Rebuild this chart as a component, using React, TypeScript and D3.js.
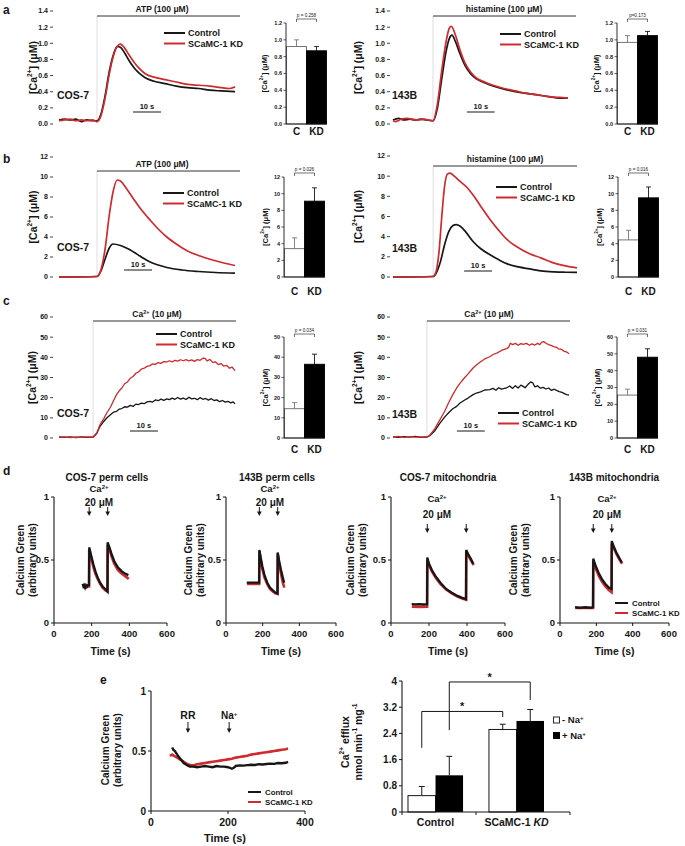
import React from "react";
import * as d3 from "d3";

type Pt = [number, number];

const FONT = "'Liberation Sans', Arial, Helvetica, sans-serif";
const RED = "#cf2a2e";
const INK = "#161616";

// ---------- panel a: [Ca2+] traces (time s, µM) ----------
const aCosCtrl: Pt[] = [[0,0.05],[2,0.06],[4,0.05],[6,0.06],[8,0.03],[10,0.05],[12,0.04],[13.6,0.04],[15,0.12],[16.5,0.35],[18,0.65],[19.5,0.86],[20.8,0.96],[22,0.95],[23.5,0.88],[25,0.79],[27,0.69],[29,0.62],[31,0.57],[34,0.53],[38,0.5],[42,0.47],[46,0.45],[50,0.44],[54,0.42],[58,0.41],[63,0.4]];
const aCosKd: Pt[] = [[0,0.04],[2,0.05],[4,0.06],[6,0.04],[8,0.05],[10,0.04],[12,0.05],[13.6,0.03],[15,0.1],[16.5,0.32],[18,0.62],[19.5,0.85],[21,0.97],[22,0.99],[23.5,0.94],[25,0.86],[27,0.76],[29,0.68],[31,0.62],[34,0.58],[38,0.55],[42,0.52],[46,0.49],[50,0.48],[54,0.47],[58,0.45],[61,0.44],[63,0.46]];
const a143Ctrl: Pt[] = [[0,0.05],[2,0.07],[4,0.05],[6,0.06],[8,0.05],[10,0.06],[12,0.05],[14.4,0.04],[16,0.2],[17.5,0.55],[19,0.88],[20.3,1.06],[21.2,1.1],[22.5,1.02],[24,0.88],[26,0.72],[28,0.62],[30,0.56],[33,0.51],[36,0.47],[40,0.43],[44,0.4],[48,0.38],[52,0.36],[56,0.34],[60,0.32],[63,0.32]];
const a143Kd: Pt[] = [[0,0.04],[1,0.03],[3,0.06],[5,0.07],[7,0.06],[9,0.05],[11,0.06],[14.4,0.04],[16,0.25],[17.5,0.65],[19,1.0],[20.3,1.19],[21,1.21],[22.5,1.1],[24,0.93],[26,0.75],[28,0.64],[30,0.57],[33,0.52],[36,0.48],[40,0.44],[44,0.41],[48,0.38],[52,0.36],[56,0.34],[60,0.33],[63,0.32]];

// ---------- panel b ----------
const bCosCtrl: Pt[] = [[0,0],[13.6,0.05],[15,0.6],[16.5,1.8],[18,2.9],[19.3,3.3],[22,3.15],[24.5,2.85],[26.7,2.5],[29.5,2.0],[32.6,1.5],[35.5,1.2],[38.6,0.95],[44,0.7],[50,0.55],[56,0.45],[63,0.38]];
const bCosKd: Pt[] = [[0,0],[13.6,0.05],[15,0.7],[16.5,2.8],[18,6.2],[19.5,8.7],[20.8,9.7],[22,9.6],[24,8.9],[26.7,7.8],[29,6.9],[32.6,5.7],[35.5,4.8],[38.6,4.0],[42,3.3],[46,2.6],[50.5,2.1],[55,1.7],[59,1.4],[63,1.15]];
const b143Ctrl: Pt[] = [[0,0],[14.4,0.05],[15.5,0.4],[17,1.5],[18.5,3.2],[20,4.5],[21.5,5.1],[22.7,5.2],[24,5.05],[26,4.5],[28.8,3.5],[31.5,2.8],[34.8,2.2],[38,1.7],[41,1.3],[45,1.0],[49,0.8],[53,0.6],[58,0.5],[62,0.47],[66,0.45]];
const b143Kd: Pt[] = [[0,0],[14.4,0.05],[15.5,0.6],[16.5,2.5],[17.5,6],[18.5,9],[19.5,10.2],[20.5,10.3],[22,10.0],[24,9.5],[26.5,8.9],[28.8,8.1],[31.5,7],[34.8,5.7],[38,4.6],[41,3.7],[45,2.9],[49,2.3],[53,1.9],[57,1.45],[61,1.15],[66,0.9]];

// ---------- panel c ----------
const cCosCtrl: Pt[] = [[0,0.5],[2,0.3],[4,0.6],[6,0.2],[8,0.5],[10,0.3],[12.2,0.4],[13.5,2.2],[14.7,5.8],[16,8.2],[17.1,9.9],[18.5,11.6],[19.5,12.8],[20.6,13.2],[21.5,14.3],[22.5,14.6],[23.5,15.5],[24.5,15.3],[25.5,16.2],[26.6,15.7],[27.5,16.8],[28.5,16.6],[29.5,17.3],[30.5,17.0],[31.5,17.9],[32.6,18.2],[33.5,17.8],[34.5,18.9],[35.5,18.5],[36.5,19.3],[37.5,18.7],[38.6,19.4],[39.5,19.0],[40.5,19.8],[41.5,19.2],[42.5,20.1],[43.5,19.3],[44.5,19.8],[45.5,19.1],[46.5,20.2],[47.5,19.4],[48.5,19.7],[49.5,19.0],[50.5,20.0],[51.5,19.2],[52.5,19.6],[53.5,18.8],[54.5,19.5],[55.5,18.6],[56.5,18.9],[57.5,18.0],[58.5,18.6],[59.5,17.8],[60.5,18.2],[61.5,17.4],[62.3,17.9],[63,17.0]];
const cCosKd: Pt[] = [[0,0.3],[2,0.6],[4,0.2],[6,0.5],[8,0.3],[10,0.6],[12.2,0.5],[13.5,2.5],[14.7,6.6],[16,9.5],[17.1,12.4],[18.5,15.5],[19.5,18.5],[20.6,21.5],[21.5,23.3],[22.5,24.8],[23.5,26.9],[24.5,27.8],[25.5,29.6],[26.6,30.6],[27.5,32.1],[28.5,32.8],[29.5,34.2],[30.5,34.6],[31.5,35.5],[32.6,35.9],[33.5,36.8],[34.5,36.5],[35.5,37.4],[36.5,37.0],[37.5,37.9],[38.6,37.7],[39.5,38.3],[40.5,37.8],[41.5,38.5],[42.5,38.1],[43.5,38.8],[44.5,38.3],[45.5,38.9],[46.5,38.2],[47.5,38.7],[48.5,38.0],[49.5,38.9],[50.5,38.5],[51.5,39.6],[52.3,39.5],[53,38.2],[54,39.0],[55,37.5],[56,37.8],[57,36.4],[58,36.9],[59,35.6],[60,36.0],[61,34.6],[62,35.1],[63,33.4]];
const c143Ctrl: Pt[] = [[0,0.6],[2,0.3],[4,0.7],[6,0.4],[8,0.8],[10,0.3],[12.2,0.5],[13.3,1.2],[15,3.5],[16.9,7.4],[18.5,10.2],[20,12.5],[21.5,14.5],[22.9,15.7],[24,17.2],[25.5,18.6],[27,19.8],[28.8,21.5],[30,22.3],[31.5,22.9],[33,23.8],[34.8,24.0],[36,24.6],[37,23.7],[38,24.9],[39,24.2],[40.8,24.8],[42,25.8],[43,24.6],[44,25.9],[45,24.8],[46,26.2],[46.8,25.6],[47.5,24.9],[48.5,26.5],[49.5,27.8],[50.3,27.3],[51,25.4],[52,25.9],[53,24.7],[54,25.1],[55,24.3],[56,24.8],[57,23.6],[58,24.2],[58.8,23.6],[59.8,23.0],[60.8,22.6],[61.8,21.9],[62.5,21.5],[63.3,21.2]];
const c143Kd: Pt[] = [[0,0.5],[2,0.8],[4,0.3],[6,0.7],[8,0.4],[10,0.6],[12.2,0.4],[13.3,1.5],[15,4.5],[16.9,9.1],[18.5,13],[20,17.5],[21.5,21.5],[22.9,24.8],[24,27],[25.5,29.5],[27,31.8],[28.8,34.7],[30,36.2],[31.5,37.8],[33,39.2],[34.8,40.3],[36,41.4],[37.5,42.2],[39,43.4],[40.8,44.3],[41.5,44.8],[42.2,47.0],[43,46.3],[44,46.9],[45,46.0],[46,46.8],[46.8,46.4],[48,46.9],[49,46.0],[50,46.7],[51,46.1],[52,46.9],[52.8,46.3],[53.5,47.5],[54.2,47.8],[55,47.0],[56,46.3],[57,45.8],[58,45.2],[58.8,45.0],[59.5,44.2],[60.5,44.0],[61.5,43.1],[62.5,42.6],[63.3,41.8]];

// ---------- bar summaries (C, KD) ----------
const barCats = ["C", "KD"];
const barA1 = [0.92, 0.87], errA1 = [0.08, 0.05];
const barA2 = [0.97, 1.05], errA2 = [0.08, 0.05];
const barB1 = [3.4, 9.1], errB1 = [1.3, 1.6];
const barB2 = [4.45, 9.5], errB2 = [1.15, 1.3];
const barC1 = [14.5, 36.5], errC1 = [3, 5];
const barC2 = [25.5, 48], errC2 = [3.5, 5];
const pVals = ["p = 0.258", "p=0.173", "p = 0.026", "p = 0.016", "p = 0.034", "p = 0.031"];

// ---------- panel d: Calcium Green (time s, a.u.) ----------
const dCosPermCtrl: Pt[] = [[152,0.31],[156,0.29],[160,0.3],[165,0.28],[170,0.3],[175,0.29],[180,0.3],[186,0.3],[187,0.6],[192,0.57],[200,0.52],[210,0.46],[220,0.41],[232,0.36],[245,0.32],[258,0.29],[272,0.27],[284,0.25],[285,0.64],[292,0.61],[305,0.55],[320,0.49],[340,0.44],[360,0.41],[380,0.39],[395,0.38]];
const dCosPermKd: Pt[] = [[154,0.29],[160,0.29],[170,0.28],[180,0.29],[186,0.29],[187,0.58],[192,0.55],[200,0.5],[210,0.44],[220,0.39],[232,0.35],[245,0.31],[258,0.28],[272,0.26],[284,0.25],[285,0.62],[292,0.6],[305,0.53],[320,0.47],[340,0.42],[360,0.39],[380,0.37],[397,0.35]];
const d143PermCtrl: Pt[] = [[113,0.32],[130,0.32],[150,0.32],[170,0.32],[181,0.32],[182,0.58],[188,0.53],[198,0.45],[210,0.38],[225,0.32],[240,0.28],[255,0.26],[270,0.24],[281,0.235],[282,0.56],[290,0.49],[300,0.42],[310,0.36],[317,0.32]];
const d143PermKd: Pt[] = [[115,0.31],[150,0.31],[181,0.31],[182,0.57],[188,0.51],[198,0.43],[210,0.36],[225,0.31],[240,0.27],[255,0.25],[270,0.235],[281,0.23],[282,0.55],[290,0.47],[300,0.39],[310,0.32],[318,0.28]];
const dCosMitoCtrl: Pt[] = [[109,0.15],[130,0.148],[150,0.15],[170,0.147],[190,0.15],[191,0.52],[200,0.47],[215,0.42],[235,0.37],[260,0.32],[290,0.27],[320,0.24],[350,0.215],[375,0.2],[395,0.19],[396,0.58],[405,0.55],[420,0.51],[433,0.47]];
const dCosMitoKd: Pt[] = [[110,0.13],[150,0.128],[190,0.13],[191,0.5],[200,0.46],[215,0.41],[235,0.36],[260,0.31],[290,0.265],[320,0.235],[350,0.21],[375,0.195],[395,0.185],[396,0.57],[405,0.54],[420,0.5],[435,0.46]];
const d143MitoCtrl: Pt[] = [[83,0.125],[110,0.12],[140,0.125],[170,0.12],[182,0.125],[183,0.51],[190,0.48],[200,0.44],[215,0.39],[230,0.35],[250,0.31],[270,0.28],[284,0.27],[285,0.65],[295,0.61],[310,0.56],[325,0.52],[340,0.48]];
const d143MitoKd: Pt[] = [[85,0.12],[130,0.12],[182,0.12],[183,0.49],[190,0.46],[200,0.42],[215,0.37],[230,0.33],[250,0.29],[270,0.26],[284,0.245],[285,0.63],[295,0.6],[310,0.55],[325,0.51],[342,0.47]];
const dArrowTimes = [[187, 285], [182, 282], [191, 396], [183, 285]];

// ---------- panel e ----------
const eCtrl: Pt[] = [[55,0.53],[58,0.51],[62,0.5],[66,0.48],[70,0.46],[75,0.44],[80,0.42],[85,0.4],[90,0.39],[95,0.38],[101,0.37],[110,0.37],[120,0.365],[130,0.37],[140,0.375],[150,0.37],[160,0.365],[170,0.375],[180,0.37],[190,0.37],[200,0.365],[205,0.36],[210,0.352],[215,0.36],[220,0.375],[230,0.38],[240,0.378],[250,0.382],[260,0.385],[270,0.383],[280,0.39],[290,0.388],[300,0.392],[310,0.395],[320,0.393],[330,0.4],[340,0.398],[350,0.402],[356,0.41]];
const eKd: Pt[] = [[49,0.46],[55,0.47],[60,0.46],[65,0.45],[70,0.44],[75,0.43],[80,0.42],[85,0.41],[90,0.4],[95,0.39],[100,0.385],[105,0.38],[110,0.38],[115,0.385],[120,0.39],[130,0.395],[140,0.4],[150,0.405],[160,0.41],[170,0.415],[180,0.42],[190,0.425],[200,0.43],[210,0.435],[220,0.445],[230,0.45],[240,0.455],[250,0.46],[260,0.47],[270,0.475],[280,0.48],[290,0.485],[300,0.49],[310,0.495],[320,0.5],[330,0.505],[340,0.51],[350,0.515],[356,0.52]];
const eArrowTimes = [96, 203];
const effluxGroups = ["Control", "SCaMC-1 KD"];
const effluxMinusNa = [0.5, 2.52];
const effluxPlusNa = [1.12, 2.78];
const effluxMinusErr = [0.28, 0.16];
const effluxPlusErr = [0.58, 0.35];
const effluxTicks = [0, 0.8, 1.6, 2.4, 3.2, 4];

// ---------- layout ----------
const TA1 = { x0: 59, x1: 235, tMax: 63, stim: 13.6, axisX: 53, yB: 124, yT: 11, ylabX: 33, barY: 16, barEnd: 240, stimX: 162, sbT: 26.5, sbY: 112, cellX: 57, cellY: 99, legX: 164, legY: 33 };
const TA2 = { x0: 393, x1: 568, tMax: 63, stim: 14.4, axisX: 390, yB: 124, yT: 11, ylabX: 358, barY: 16, barEnd: 576, stimX: 504, sbT: 26.6, sbY: 112, cellX: 392, cellY: 99, legX: 500, legY: 34 };
const TB1 = { x0: 59, x1: 235, tMax: 63, stim: 13.6, axisX: 53, yB: 277, yT: 157, ylabX: 33, barY: 171, barEnd: 240, stimX: 162, sbT: 23.3, sbY: 270, cellX: 57, cellY: 251, legX: 163, legY: 193 };
const TB2 = { x0: 393, x1: 577, tMax: 66, stim: 14.4, axisX: 390, yB: 277, yT: 156, ylabX: 358, barY: 166, barEnd: 577, stimX: 505, sbT: 25.5, sbY: 271, cellX: 392, cellY: 252, legX: 496, legY: 187 };
const TC1 = { x0: 59, x1: 235, tMax: 63, stim: 12.2, axisX: 53, yB: 438, yT: 317, ylabX: 32, barY: 321, barEnd: 236, stimX: 157, sbT: 25.4, sbY: 431, cellX: 57, cellY: 417, legX: 156, legY: 334 };
const TC2 = { x0: 393, x1: 569, tMax: 63.3, stim: 12.2, axisX: 390, yB: 438, yT: 317, ylabX: 358, barY: 321, barEnd: 570, stimX: 489, sbT: 23, sbY: 431, cellX: 392, cellY: 418, legX: 498, legY: 413 };

const BA1 = { axisX: 286, y0: 124, yTop: 23, ylabX: 264, labY: 131, brY: 19 };
const BA2 = { axisX: 617, y0: 124, yTop: 23, ylabX: 596, labY: 131, brY: 19 };
const BB1 = { axisX: 284, y0: 277, yTop: 177, ylabX: 265, labY: 291, brY: 173 };
const BB2 = { axisX: 618, y0: 277, yTop: 177, ylabX: 599, labY: 291, brY: 173 };
const BC1 = { axisX: 284, y0: 438, yTop: 337, ylabX: 265, labY: 449, brY: 334 };
const BC2 = { axisX: 617, y0: 438, yTop: 337, ylabX: 597, labY: 449, brY: 334 };

const D1 = { axisX: 54, xEnd: 167, title: "COS-7 perm cells", titleX: 107, yl1: 20, yl2: 32, annX: 99, annY1: 489, annY2: 502, arY0: 507, arY1: 516 };
const D2 = { axisX: 226, xEnd: 336, title: "143B perm cells", titleX: 277, yl1: 188, yl2: 200, annX: 270, annY1: 489, annY2: 502, arY0: 507, arY1: 516 };
const D3 = { axisX: 391, xEnd: 505, title: "COS-7 mitochondria", titleX: 448, yl1: 350, yl2: 362, annX: 437, annY1: 499, annY2: 514, arY0: 524, arY1: 533 };
const D4 = { axisX: 560, xEnd: 669, title: "143B mitochondria", titleX: 614, yl1: 513, yl2: 525, annX: 607, annY1: 499, annY2: 514, arY0: 524, arY1: 533 };

const txt = { fontFamily: FONT, fontWeight: 700, fill: INK } as any;

function CaLabel({ x, y, size }: any) {
  return (
    <text {...txt} transform={`translate(${x},${y}) rotate(-90)`} textAnchor="middle" dominantBaseline="central" fontSize={size}>
      [Ca<tspan baselineShift="super" fontSize={size * 0.62}>2+</tspan>] (μM)
    </text>
  );
}

function StimLabel({ kind }: any) {
  if (kind === "Ca") return <>Ca<tspan baselineShift="super" fontSize={5.5}>2+</tspan> (10 μM)</>;
  if (kind === "hist") return <>histamine (100 μM)</>;
  return <>ATP (100 μM)</>;
}

function TracePanel({ L, ctrl, kd, yMax, yTicks, fmt, curve, kind, cell }: any) {
  const x = d3.scaleLinear().domain([0, L.tMax]).range([L.x0, L.x1]);
  const y = d3.scaleLinear().domain([0, yMax]).range([L.yB, L.yT]);
  const line = d3.line<Pt>().x(d => x(d[0])).y(d => y(d[1])).curve(curve);
  const sx = x(L.stim);
  const w = curve === d3.curveLinear ? 1.3 : 1.7;
  return (
    <g>
      {yTicks.map((t: number) => (
        <g key={t}>
          <line x1={L.axisX - 3} x2={L.axisX} y1={y(t)} y2={y(t)} stroke={INK} strokeWidth={0.8} />
          <text {...txt} x={L.axisX - 5} y={y(t)} dy="0.35em" textAnchor="end" fontSize={7}>{fmt(t)}</text>
        </g>
      ))}
      <CaLabel x={L.ylabX} y={(L.yB + L.yT) / 2} size={10.5} />
      <line x1={sx} x2={sx} y1={L.barY} y2={y(0)} stroke="#c8c8c8" strokeWidth={0.6} />
      <line x1={sx} x2={L.barEnd} y1={L.barY} y2={L.barY} stroke="#333" strokeWidth={1} />
      <text {...txt} x={L.stimX} y={L.barY - 4} textAnchor="middle" fontSize={8.5}><StimLabel kind={kind} /></text>
      <path d={line(ctrl) || ""} fill="none" stroke={INK} strokeWidth={w} strokeLinejoin="round" />
      <path d={line(kd) || ""} fill="none" stroke={RED} strokeWidth={w} strokeLinejoin="round" />
      <line x1={x(L.sbT)} x2={x(L.sbT + 10)} y1={L.sbY} y2={L.sbY} stroke={INK} strokeWidth={1} />
      <text {...txt} x={(x(L.sbT) + x(L.sbT + 10)) / 2} y={L.sbY - 3} textAnchor="middle" fontSize={7.5}>10 s</text>
      <text {...txt} x={L.cellX} y={L.cellY} fontSize={10.5}>{cell}</text>
      <line x1={L.legX} x2={L.legX + 21} y1={L.legY} y2={L.legY} stroke={INK} strokeWidth={2} />
      <line x1={L.legX} x2={L.legX + 21} y1={L.legY + 10.5} y2={L.legY + 10.5} stroke={RED} strokeWidth={2} />
      <text {...txt} x={L.legX + 24} y={L.legY} dy="0.35em" fontSize={9}>Control</text>
      <text {...txt} x={L.legX + 24} y={L.legY + 10.5} dy="0.35em" fontSize={9}>SCaMC-1 KD</text>
    </g>
  );
}

function BarPanel({ B, vals, errs, max, ticks, fmt, p }: any) {
  const y = d3.scaleLinear().domain([0, max]).range([B.y0, B.yTop]);
  const x = d3.scaleBand().domain(barCats).range([B.axisX + 0.5, B.axisX + 40.5]);
  const bw = x.bandwidth();
  const cx = barCats.map(c => (x(c) as number) + bw / 2);
  return (
    <g>
      {ticks.map((t: number) => (
        <g key={t}>
          <line x1={B.axisX - 2.5} x2={B.axisX} y1={y(t)} y2={y(t)} stroke={INK} strokeWidth={0.7} />
          <text {...txt} x={B.axisX - 4} y={y(t)} dy="0.35em" textAnchor="end" fontSize={5.5}>{fmt(t)}</text>
        </g>
      ))}
      <CaLabel x={B.ylabX} y={(B.y0 + B.yTop) / 2} size={7.5} />
      {barCats.map((c, i) => (
        <g key={c}>
          <line x1={cx[i]} x2={cx[i]} y1={y(vals[i])} y2={y(vals[i] + errs[i])} stroke={i ? INK : "#777"} strokeWidth={0.9} />
          <line x1={cx[i] - 2.5} x2={cx[i] + 2.5} y1={y(vals[i] + errs[i])} y2={y(vals[i] + errs[i])} stroke={i ? INK : "#777"} strokeWidth={0.9} />
          <rect x={x(c)} y={y(vals[i])} width={bw} height={B.y0 - y(vals[i])} fill={i ? "#000" : "#fff"} stroke={i ? "#000" : "#666"} strokeWidth={0.9} />
          <text {...txt} x={cx[i]} y={B.labY} dy="0.35em" textAnchor="middle" fontSize={10}>{c}</text>
        </g>
      ))}
      <line x1={B.axisX} x2={B.axisX} y1={B.y0} y2={B.yTop} stroke={INK} strokeWidth={0.9} />
      <line x1={B.axisX} x2={B.axisX + 41} y1={B.y0} y2={B.y0} stroke={INK} strokeWidth={0.9} />
      <path d={`M${cx[0]},${B.brY + 3}V${B.brY}H${cx[1]}V${B.brY + 3}`} fill="none" stroke={INK} strokeWidth={0.6} />
      <text x={(cx[0] + cx[1]) / 2} y={B.brY - 1.8} textAnchor="middle" fontSize={4.6} fontFamily={FONT} fill={INK}>{p}</text>
    </g>
  );
}

function Arrow({ x, y0, y1 }: any) {
  return (
    <g>
      <line x1={x} x2={x} y1={y0} y2={y1 - 3} stroke={INK} strokeWidth={1} />
      <path d={`M${x - 2.3},${y1 - 4.5}L${x + 2.3},${y1 - 4.5}L${x},${y1}Z`} fill={INK} />
    </g>
  );
}

function GreenYLabel({ x1, x2, y }: any) {
  return (
    <g>
      <text {...txt} transform={`translate(${x1},${y}) rotate(-90)`} textAnchor="middle" dominantBaseline="central" fontSize={10}>Calcium Green</text>
      <text {...txt} transform={`translate(${x2},${y}) rotate(-90)`} textAnchor="middle" dominantBaseline="central" fontSize={10}>(arbitrary units)</text>
    </g>
  );
}

function SmallLegend({ x, y }: any) {
  return (
    <g>
      <line x1={x} x2={x + 13} y1={y} y2={y} stroke={INK} strokeWidth={2} />
      <line x1={x} x2={x + 13} y1={y + 10} y2={y + 10} stroke={RED} strokeWidth={2} />
      <text {...txt} x={x + 17} y={y} dy="0.35em" fontSize={7.8}>Control</text>
      <text {...txt} x={x + 17} y={y + 10} dy="0.35em" fontSize={7.8}>SCaMC-1 KD</text>
    </g>
  );
}

function DPanel({ L, ctrl, kd, arrows, legend }: any) {
  const x = d3.scaleLinear().domain([0, 600]).range([L.axisX, L.xEnd]);
  const y = d3.scaleLinear().domain([0, 1]).range([623, 497]);
  const line = d3.line<Pt>().x(d => x(d[0])).y(d => y(d[1]));
  return (
    <g>
      <text {...txt} x={L.titleX} y={481} textAnchor="middle" fontSize={10}>{L.title}</text>
      <GreenYLabel x1={L.yl1} x2={L.yl2} y={560} />
      {[0, 0.5, 1].map(t => (
        <g key={t}>
          <line x1={L.axisX - 3} x2={L.axisX} y1={y(t)} y2={y(t)} stroke={INK} />
          <text {...txt} x={L.axisX - 5} y={y(t)} dy="0.35em" textAnchor="end" fontSize={9.5}>{t}</text>
        </g>
      ))}
      {[0, 200, 400, 600].map(t => (
        <g key={t}>
          <line x1={x(t)} x2={x(t)} y1={623} y2={626} stroke={INK} />
          <text {...txt} x={x(t)} y={637} textAnchor="middle" fontSize={9.5}>{t}</text>
        </g>
      ))}
      <line x1={L.axisX} x2={L.axisX} y1={497} y2={623} stroke={INK} strokeWidth={1.1} />
      <line x1={L.axisX} x2={L.xEnd} y1={623} y2={623} stroke={INK} strokeWidth={1.1} />
      <text {...txt} x={(L.axisX + L.xEnd) / 2} y={655} textAnchor="middle" fontSize={10.5}>Time (s)</text>
      <path d={line(kd) || ""} fill="none" stroke={RED} strokeWidth={2.6} />
      <path d={line(ctrl) || ""} fill="none" stroke={INK} strokeWidth={2.3} />
      <text {...txt} x={L.annX} y={L.annY1} dy="0.35em" textAnchor="middle" fontSize={9.5}>
        Ca<tspan baselineShift="super" fontSize={6}>2+</tspan>
      </text>
      <text {...txt} x={L.annX} y={L.annY2} dy="0.35em" textAnchor="middle" fontSize={10}>20 μM</text>
      {arrows.map((t: number) => <Arrow key={t} x={x(t)} y0={L.arY0} y1={L.arY1} />)}
      {legend && <SmallLegend x={615} y={603} />}
    </g>
  );
}

function EPanel() {
  const x = d3.scaleLinear().domain([0, 400]).range([151, 305]);
  const y = d3.scaleLinear().domain([0, 1]).range([811, 691]);
  const line = d3.line<Pt>().x(d => x(d[0])).y(d => y(d[1]));
  return (
    <g>
      <GreenYLabel x1={105} x2={117} y={750} />
      {[0, 0.5, 1].map(t => (
        <g key={t}>
          <line x1={148} x2={151} y1={y(t)} y2={y(t)} stroke={INK} />
          <text {...txt} x={146} y={y(t)} dy="0.35em" textAnchor="end" fontSize={10}>{t}</text>
        </g>
      ))}
      {[0, 200, 400].map(t => (
        <g key={t}>
          <line x1={x(t)} x2={x(t)} y1={811} y2={814} stroke={INK} />
          <text {...txt} x={x(t)} y={826} textAnchor="middle" fontSize={10.5}>{t}</text>
        </g>
      ))}
      <line x1={151} x2={151} y1={691} y2={811} stroke={INK} strokeWidth={1.1} />
      <line x1={151} x2={305} y1={811} y2={811} stroke={INK} strokeWidth={1.1} />
      <text {...txt} x={225} y={842} textAnchor="middle" fontSize={11}>Time (s)</text>
      <path d={line(eKd) || ""} fill="none" stroke={RED} strokeWidth={2.6} />
      <path d={line(eCtrl) || ""} fill="none" stroke={INK} strokeWidth={2.4} />
      <text {...txt} x={x(eArrowTimes[0])} y={715} dy="0.35em" textAnchor="middle" fontSize={10.5}>RR</text>
      <text {...txt} x={x(eArrowTimes[1])} y={715} dy="0.35em" textAnchor="middle" fontSize={10}>
        Na<tspan baselineShift="super" fontSize={6}>+</tspan>
      </text>
      {eArrowTimes.map(t => <Arrow key={t} x={x(t)} y0={722} y1={733} />)}
      <SmallLegend x={248} y={792} />
    </g>
  );
}

function EffluxPanel() {
  const y = d3.scaleLinear().domain([0, 4]).range([812, 681]);
  const gx = d3.scaleBand().domain(effluxGroups).range([402, 550]).paddingInner(0.32).paddingOuter(0.074);
  const bw = gx.bandwidth() / 2;
  const cxMinus = effluxGroups.map(g => (gx(g) as number) + bw / 2);
  const cxPlus = effluxGroups.map(g => (gx(g) as number) + bw * 1.5);
  const brackets = [
    { xs: cxMinus, top: 3.07, l: 1.96, r: 2.9 },
    { xs: cxPlus, top: 3.97, l: 2.5, r: 3.42 },
  ];
  const err = (cx: number, v: number, e: number, k: string) => (
    <g key={k}>
      <line x1={cx} x2={cx} y1={y(v)} y2={y(v + e)} stroke={INK} strokeWidth={1} />
      <line x1={cx - 3} x2={cx + 3} y1={y(v + e)} y2={y(v + e)} stroke={INK} strokeWidth={1} />
    </g>
  );
  return (
    <g>
      <text {...txt} transform={`translate(345,742) rotate(-90)`} textAnchor="middle" dominantBaseline="central" fontSize={10.5}>
        Ca<tspan baselineShift="super" fontSize={6.5}>2+</tspan> efflux
      </text>
      <text {...txt} transform={`translate(358,742) rotate(-90)`} textAnchor="middle" dominantBaseline="central" fontSize={10.5}>
        nmol min<tspan baselineShift="super" fontSize={6.5}>-1</tspan> mg<tspan baselineShift="super" fontSize={6.5}>-1</tspan>
      </text>
      {effluxTicks.map(t => (
        <g key={t}>
          <line x1={399} x2={402} y1={y(t)} y2={y(t)} stroke={INK} />
          <text {...txt} x={397} y={y(t)} dy="0.35em" textAnchor="end" fontSize={10}>{t}</text>
        </g>
      ))}
      {effluxGroups.map((g, i) => (
        <g key={g}>
          {err(cxMinus[i], effluxMinusNa[i], effluxMinusErr[i], "m")}
          {err(cxPlus[i], effluxPlusNa[i], effluxPlusErr[i], "p")}
          <rect x={gx(g)} y={y(effluxMinusNa[i])} width={bw} height={812 - y(effluxMinusNa[i])} fill="#fff" stroke={INK} strokeWidth={1} />
          <rect x={(gx(g) as number) + bw} y={y(effluxPlusNa[i])} width={bw} height={812 - y(effluxPlusNa[i])} fill="#000" />
        </g>
      ))}
      <line x1={402} x2={402} y1={681} y2={812} stroke={INK} strokeWidth={1.1} />
      <line x1={402} x2={570} y1={812} y2={812} stroke={INK} strokeWidth={1.1} />
      {[402, 476, 570].map(v => <line key={v} x1={v} x2={v} y1={812} y2={815} stroke={INK} />)}
      <text {...txt} x={gx("Control")! + gx.bandwidth() / 2} y={826} textAnchor="middle" fontSize={10.5}>Control</text>
      <text {...txt} x={gx("SCaMC-1 KD")! + gx.bandwidth() / 2} y={826} textAnchor="middle" fontSize={10.5}>
        SCaMC-1 <tspan fontStyle="italic">KD</tspan>
      </text>
      {brackets.map((b, i) => (
        <g key={i}>
          <path d={`M${b.xs[0]},${y(b.l)}V${y(b.top)}H${b.xs[1]}V${y(b.r)}`} fill="none" stroke={INK} strokeWidth={1} />
          <text {...txt} x={(b.xs[0] + b.xs[1]) / 2} y={y(b.top) - 1} textAnchor="middle" fontSize={11}>*</text>
        </g>
      ))}
      <rect x={553.5} y={717} width={6} height={6} fill="#fff" stroke={INK} strokeWidth={0.9} />
      <text {...txt} x={562} y={720} dy="0.35em" fontSize={9.5}>-  Na<tspan baselineShift="super" fontSize={6}>+</tspan></text>
      <rect x={553} y={732} width={7} height={7} fill="#000" />
      <text {...txt} x={562} y={735.5} dy="0.35em" fontSize={9.5}>+ Na<tspan baselineShift="super" fontSize={6}>+</tspan></text>
    </g>
  );
}

export default function App() {
  const f1 = d3.format(".1f");
  const fd = d3.format("d");
  const r = (a: number, b: number, s: number) => d3.range(a, b + s / 2, s);
  return (
    <svg width={685} height={846} style={{ position: "absolute", left: 0, top: 0, background: "#fff" }}>
      <rect width={685} height={846} fill="#fff" />
      <text {...txt} x={3} y={14} fontSize={12}>a</text>
      <text {...txt} x={3} y={163} fontSize={12}>b</text>
      <text {...txt} x={3} y={305} fontSize={12}>c</text>
      <text {...txt} x={3} y={475} fontSize={12}>d</text>
      <text {...txt} x={100} y={684} fontSize={12}>e</text>

      <TracePanel L={TA1} ctrl={aCosCtrl} kd={aCosKd} yMax={1.4} yTicks={r(0, 1.4, 0.2)} fmt={f1} curve={d3.curveMonotoneX} kind="ATP" cell="COS-7" />
      <TracePanel L={TA2} ctrl={a143Ctrl} kd={a143Kd} yMax={1.4} yTicks={r(0, 1.4, 0.2)} fmt={f1} curve={d3.curveMonotoneX} kind="hist" cell="143B" />
      <BarPanel B={BA1} vals={barA1} errs={errA1} max={1.2} ticks={r(0, 1.2, 0.2)} fmt={f1} p={pVals[0]} />
      <BarPanel B={BA2} vals={barA2} errs={errA2} max={1.2} ticks={r(0, 1.2, 0.2)} fmt={f1} p={pVals[1]} />

      <TracePanel L={TB1} ctrl={bCosCtrl} kd={bCosKd} yMax={12} yTicks={r(0, 12, 2)} fmt={fd} curve={d3.curveMonotoneX} kind="ATP" cell="COS-7" />
      <TracePanel L={TB2} ctrl={b143Ctrl} kd={b143Kd} yMax={12} yTicks={r(0, 12, 2)} fmt={fd} curve={d3.curveMonotoneX} kind="hist" cell="143B" />
      <BarPanel B={BB1} vals={barB1} errs={errB1} max={12} ticks={r(0, 12, 2)} fmt={fd} p={pVals[2]} />
      <BarPanel B={BB2} vals={barB2} errs={errB2} max={12} ticks={r(0, 12, 2)} fmt={fd} p={pVals[3]} />

      <TracePanel L={TC1} ctrl={cCosCtrl} kd={cCosKd} yMax={60} yTicks={r(0, 60, 10)} fmt={fd} curve={d3.curveLinear} kind="Ca" cell="COS-7" />
      <TracePanel L={TC2} ctrl={c143Ctrl} kd={c143Kd} yMax={60} yTicks={r(0, 60, 10)} fmt={fd} curve={d3.curveLinear} kind="Ca" cell="143B" />
      <BarPanel B={BC1} vals={barC1} errs={errC1} max={50} ticks={r(0, 50, 10)} fmt={fd} p={pVals[4]} />
      <BarPanel B={BC2} vals={barC2} errs={errC2} max={60} ticks={r(0, 60, 10)} fmt={fd} p={pVals[5]} />

      <DPanel L={D1} ctrl={dCosPermCtrl} kd={dCosPermKd} arrows={dArrowTimes[0]} />
      <DPanel L={D2} ctrl={d143PermCtrl} kd={d143PermKd} arrows={dArrowTimes[1]} />
      <DPanel L={D3} ctrl={dCosMitoCtrl} kd={dCosMitoKd} arrows={dArrowTimes[2]} />
      <DPanel L={D4} ctrl={d143MitoCtrl} kd={d143MitoKd} arrows={dArrowTimes[3]} legend />

      <EPanel />
      <EffluxPanel />
    </svg>
  );
}
